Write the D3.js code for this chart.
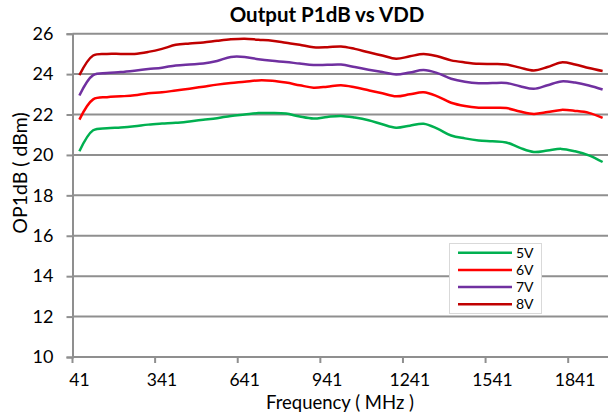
<!DOCTYPE html>
<html>
<head>
<meta charset="utf-8">
<script src="https://cdn.jsdelivr.net/npm/d3@7"></script>
<style>
  body { margin: 0; background: #fff; }
  text { font-family: Lato, "Open Sans", sans-serif; fill: #000; }
</style>
</head>
<body>
<script>
// frequencies (MHz), one category every 50 MHz
const freqs = d3.range(39).map(i => 41 + 50 * i);
const tickLabels = ["41", "341", "641", "941", "1241", "1541", "1841"];
const yTicks = [10, 12, 14, 16, 18, 20, 22, 24, 26];

const v5 = [20.18, 21.22, 21.32, 21.36, 21.42, 21.5, 21.55, 21.59, 21.66, 21.74,
            21.82, 21.93, 22.0, 22.07, 22.08, 22.05, 21.9, 21.8, 21.88, 21.93,
            21.85, 21.72, 21.52, 21.35, 21.45, 21.54, 21.3, 20.96, 20.82, 20.72,
            20.68, 20.62, 20.35, 20.15, 20.22, 20.3, 20.18, 19.98, 19.65];
const v6 = [21.75, 22.75, 22.86, 22.9, 22.95, 23.05, 23.1, 23.19, 23.28, 23.38,
            23.48, 23.56, 23.62, 23.69, 23.67, 23.58, 23.45, 23.33, 23.38, 23.45,
            23.35, 23.2, 23.05, 22.9, 23.0, 23.1, 22.9, 22.58, 22.42, 22.34,
            22.33, 22.32, 22.15, 22.03, 22.12, 22.23, 22.18, 22.08, 21.83];
const v7 = [22.94, 23.95, 24.05, 24.1, 24.17, 24.25, 24.32, 24.43, 24.48, 24.52,
            24.65, 24.85, 24.85, 24.74, 24.66, 24.6, 24.52, 24.45, 24.46, 24.47,
            24.35, 24.22, 24.1, 23.98, 24.08, 24.2, 24.05, 23.77, 23.62, 23.55,
            23.56, 23.56, 23.4, 23.27, 23.45, 23.64, 23.58, 23.44, 23.24];
const v8 = [23.95, 24.92, 25.0, 25.0, 25.0, 25.1, 25.25, 25.45, 25.52, 25.57,
            25.65, 25.72, 25.75, 25.7, 25.65, 25.55, 25.45, 25.33, 25.33, 25.37,
            25.25, 25.08, 24.92, 24.76, 24.88, 25.0, 24.88, 24.68, 24.58, 24.51,
            24.5, 24.48, 24.32, 24.18, 24.35, 24.58, 24.48, 24.3, 24.15];

const seriesNames = ["5V", "6V", "7V", "8V"];
const seriesValues = [v5, v6, v7, v8];
const seriesColors = ["#00b050", "#ff0000", "#7030a0", "#c00000"];

const W = 608, H = 414;
const plot = {left: 72.5, right: 609.5, top: 33.7, bottom: 357};

const svg = d3.select("body").append("svg")
  .attr("width", W).attr("height", H);

const x = d3.scaleBand().domain(freqs).range([plot.left, plot.right]).padding(0);
const y = d3.scaleLinear().domain([10, 26]).range([plot.bottom, plot.top]);

// gridlines
svg.append("g").selectAll("line")
  .data(yTicks.filter(d => d > 10))
  .enter().append("line")
  .attr("x1", plot.left).attr("x2", W)
  .attr("y1", d => y(d)).attr("y2", d => y(d))
  .attr("stroke", "#8f8f8f").attr("stroke-width", 2);

// y axis
const yAxis = svg.append("g")
  .attr("transform", `translate(${plot.left},0)`)
  .call(d3.axisLeft(y).tickValues(yTicks).tickSize(6).tickPadding(13));
yAxis.select(".domain").attr("stroke", "#8f8f8f").attr("stroke-width", 2);
yAxis.selectAll(".tick line").attr("stroke", "#8f8f8f").attr("stroke-width", 2);
yAxis.selectAll(".tick text").attr("font-size", 18).attr("font-family", "Lato");

// x axis: labels at category centres, ticks at category boundaries
const labelled = freqs.filter(f => tickLabels.includes(String(f)));
const xAxis = svg.append("g")
  .attr("transform", `translate(0,${plot.bottom})`)
  .call(d3.axisBottom(x).tickValues(labelled).tickSize(0).tickPadding(16.5));
xAxis.select(".domain").remove();
xAxis.selectAll(".tick text").attr("font-size", 17.5).attr("font-family", "Lato");
svg.append("line")
  .attr("x1", plot.left).attr("x2", W)
  .attr("y1", plot.bottom).attr("y2", plot.bottom)
  .attr("stroke", "#8f8f8f").attr("stroke-width", 2);
svg.append("g").selectAll("line")
  .data(labelled)
  .enter().append("line")
  .attr("x1", d => x(d)).attr("x2", d => x(d))
  .attr("y1", plot.bottom).attr("y2", plot.bottom + 6)
  .attr("stroke", "#8f8f8f").attr("stroke-width", 2);

// lines
const line = d3.line()
  .x((d, i) => x(freqs[i]) + x.bandwidth() / 2)
  .y(d => y(d))
  .curve(d3.curveCatmullRom.alpha(0.5));

svg.append("g").selectAll("path")
  .data(seriesValues)
  .enter().append("path")
  .attr("d", line)
  .attr("fill", "none")
  .attr("stroke", (d, i) => seriesColors[i])
  .attr("stroke-width", 2.5);

// titles
svg.append("text")
  .attr("x", 327).attr("y", 21.7)
  .attr("text-anchor", "middle")
  .attr("font-size", 20.5).attr("font-weight", "bold")
  .text("Output P1dB vs VDD");

svg.append("text")
  .attr("x", 340).attr("y", 408.5)
  .attr("text-anchor", "middle")
  .attr("font-size", 18.5)
  .text("Frequency ( MHz )");

svg.append("text")
  .attr("transform", "translate(27,173) rotate(-90)")
  .attr("text-anchor", "middle")
  .attr("font-size", 19.5)
  .text("OP1dB ( dBm)");

// legend
const legend = svg.append("g");
legend.append("rect")
  .attr("x", 449.5).attr("y", 243.5).attr("width", 92).attr("height", 70)
  .attr("fill", "#fff").attr("stroke", "#d9d9d9").attr("stroke-width", 1);
const item = legend.selectAll("g.item")
  .data(seriesNames)
  .enter().append("g").attr("class", "item")
  .attr("transform", (d, i) => `translate(0,${252.7 + i * 17.2})`);
item.append("line")
  .attr("x1", 458).attr("x2", 512)
  .attr("stroke", (d, i) => seriesColors[i]).attr("stroke-width", 2.5);
item.append("text")
  .attr("x", 516).attr("y", 5)
  .attr("font-size", 14)
  .text(d => d);
</script>
</body>
</html>
